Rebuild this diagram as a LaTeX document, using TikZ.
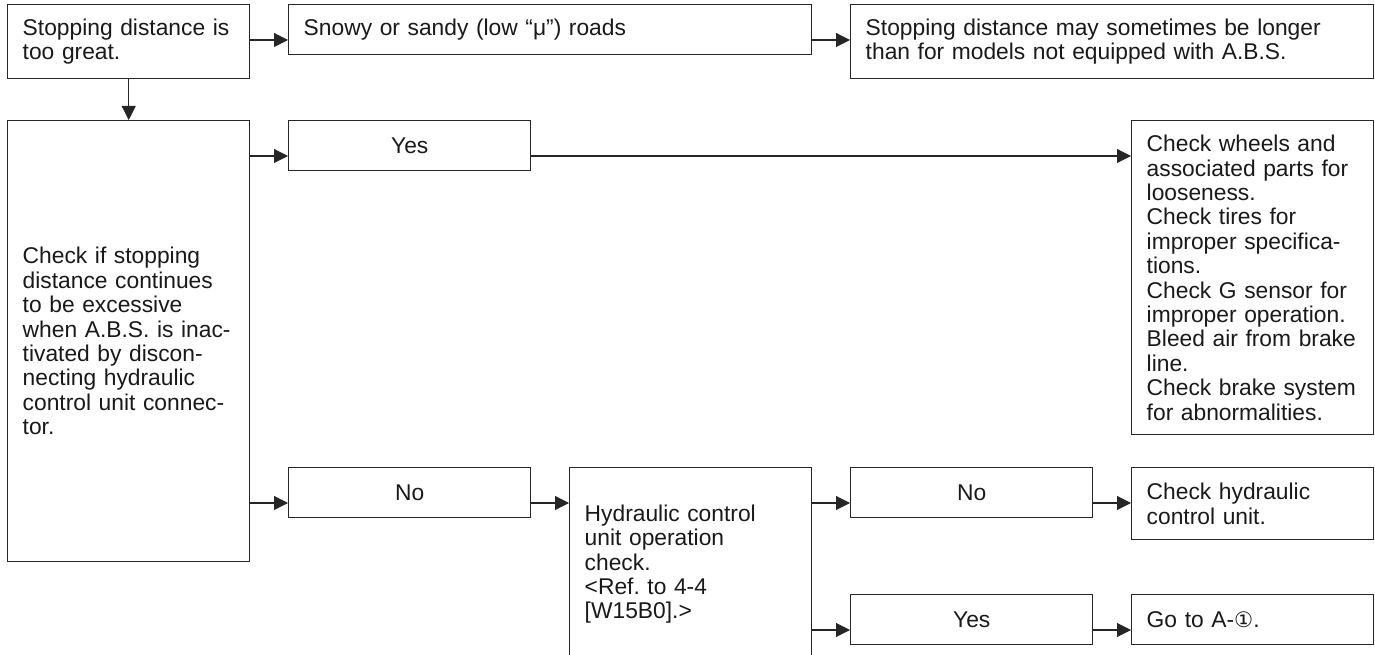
\documentclass[tikz,border=0pt]{standalone}
\usepackage{fontspec}
\setmainfont{Liberation Sans}
\newfontfamily\circfont{DejaVu Sans}
\usetikzlibrary{arrows.meta,calc}

\begin{document}
\begin{tikzpicture}[x=0.75pt,y=0.75pt,yscale=-1,xscale=1,
    box/.style={draw=black!85, line width=1.1pt, anchor=north west, inner xsep=11.25pt, inner ysep=0pt,
      text width=159pt, align=left, text=black!90, minimum height=37.5pt,
      font=\fontsize{17.1}{18.3}\selectfont\frenchspacing},
    wide/.style={text width=369.75pt},
    mid/.style={align=center},
    conn/.style={draw=black!85, line width=0.8pt, -{Triangle[length=10.5pt,width=10.5pt]}}]
    \useasboundingbox (0,0) rectangle (1375,655);
    
    % Text Node
    \node[box, minimum height=55.5pt] (great) at (7,4) {Stopping distance is\\too great.};
    % Text Node
    \node[box, wide] (snowy) at (288,4) {Snowy or sandy (low “μ”) roads};
    % Text Node
    \node[box, wide, minimum height=55.5pt] (longer) at (850,4) {Stopping distance may sometimes be longer\\than for models not equipped with A.B.S.};
    % Text Node
    \node[box, minimum height=330.75pt] (inact) at (7,120) {Check if stopping\\distance continues\\to be excessive\\when A.B.S. is inac-\\tivated by discon-\\necting hydraulic\\control unit connec-\\tor.};
    % Text Node
    \node[box, mid] (yesA) at (288,120) {Yes};
    % Text Node
    \node[box, minimum height=235.5pt] (wheels) at (1131,120) {Check wheels and\\associated parts for\\looseness.\\Check tires for\\improper specifica-\\tions.\\Check G sensor for\\improper operation.\\Bleed air from brake\\line.\\Check brake system\\for abnormalities.};
    % Text Node
    \node[box, mid] (noA) at (288,467) {No};
    % Text Node
    \node[box, minimum height=144.75pt] (hcu) at (569,467) {Hydraulic control\\unit operation\\check.\\<Ref. to 4-4\\{}[W15B0].>};
    % Text Node
    \node[box, mid] (noB) at (850,467) {No};
    % Text Node
    \node[box, minimum height=54pt] (chkhcu) at (1131,467) {Check hydraulic\\control unit.};
    % Text Node
    \node[box, mid] (yesB) at (850,594) {Yes};
    % Text Node
    \node[box] (goto) at (1131,594) {Go to A-{\circfont\fontsize{16}{16}\selectfont ①}.};
    
    % Connection
    \coordinate (inSnowy) at ($(snowy.north west)+(0,36)$);
    \draw[conn] (great.east |- inSnowy) -- (inSnowy);
    % Connection
    \coordinate (inLonger) at ($(longer.north west)+(0,36)$);
    \draw[conn] (snowy.east |- inLonger) -- (inLonger);
    % Connection
    \draw[conn] (great) -- (inact);
    % Connection
    \coordinate (inYesA) at ($(yesA.north west)+(0,36)$);
    \draw[conn] (inact.east |- inYesA) -- (inYesA);
    % Connection
    \coordinate (inWheels) at ($(wheels.north west)+(0,36)$);
    \draw[conn] (yesA.east |- inWheels) -- (inWheels);
    % Connection
    \coordinate (inNoA) at ($(noA.north west)+(0,36)$);
    \draw[conn] (inact.east |- inNoA) -- (inNoA);
    % Connection
    \coordinate (inHcu) at ($(hcu.north west)+(0,36)$);
    \draw[conn] (noA.east |- inHcu) -- (inHcu);
    % Connection
    \coordinate (inNoB) at ($(noB.north west)+(0,36)$);
    \draw[conn] (hcu.east |- inNoB) -- (inNoB);
    % Connection
    \coordinate (inYesB) at ($(yesB.north west)+(0,36)$);
    \draw[conn] (hcu.east |- inYesB) -- (inYesB);
    % Connection
    \coordinate (inChk) at ($(chkhcu.north west)+(0,36)$);
    \draw[conn] (noB.east |- inChk) -- (inChk);
    % Connection
    \coordinate (inGoto) at ($(goto.north west)+(0,36)$);
    \draw[conn] (yesB.east |- inGoto) -- (inGoto);
    
\end{tikzpicture}
\end{document}
